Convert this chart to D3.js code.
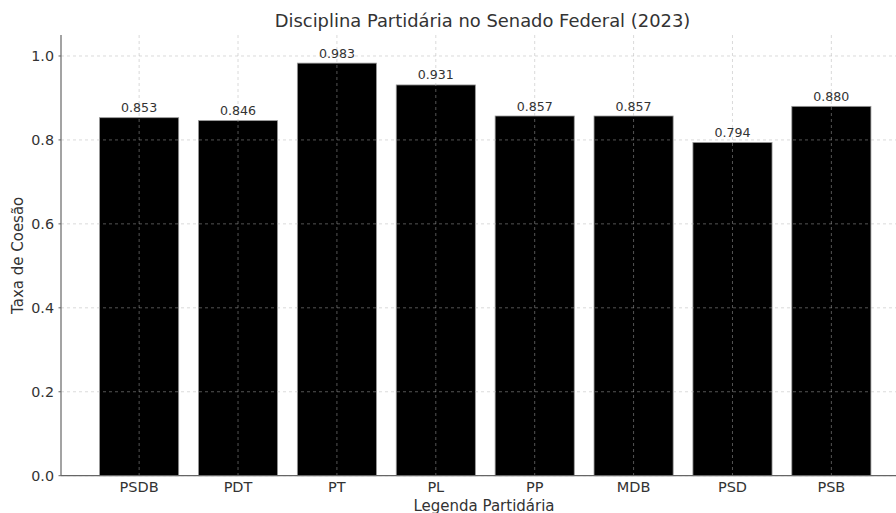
<!DOCTYPE html>
<html><head><meta charset="utf-8">
<script src="https://cdn.jsdelivr.net/npm/d3@7"></script>
<style>body{margin:0;background:#fff}svg{display:block}</style>
</head><body><svg id="c" width="896" height="513"></svg>
<script>
const parties = ["PSDB","PDT","PT","PL","PP","MDB","PSD","PSB"];
const cohesion = [0.853,0.846,0.983,0.931,0.857,0.857,0.794,0.880];
const yTicks = [0.0,0.2,0.4,0.6,0.8,1.0];
const title = "Disciplina Partidária no Senado Federal (2023)";
const xLabel = "Legenda Partidária";
const yLabel = "Taxa de Coesão";

(function(){
const svg = d3.select("#c");
const font = "DejaVu Sans, sans-serif";
const txt = "#333";
const pL = 61, pT = 35, pB = 475.7, pR = 909.5;
const x = d3.scaleLinear().domain([-0.79, 7.79]).range([pL, pR]);
const y = d3.scaleLinear().domain([0, 1.05]).range([pB, pT]);
const bw = x(0.8) - x(0);

// bars
svg.append("g").selectAll("rect").data(cohesion).join("rect")
  .attr("x", (d,i)=>x(i)-bw/2).attr("width", bw)
  .attr("y", d=>y(d)).attr("height", d=>y(0)-y(d))
  .attr("fill","#000").attr("stroke","#999").attr("stroke-width",0.8);

// grid
const g = svg.append("g").attr("stroke","#b0b0b0").attr("stroke-opacity",0.6)
  .attr("stroke-width",0.8).attr("stroke-dasharray","3,3");
g.selectAll("line.h").data(yTicks).join("line").attr("class","h")
  .attr("x1",pL).attr("x2",pR).attr("y1",d=>y(d)).attr("y2",d=>y(d));
g.selectAll("line.v").data(parties).join("line").attr("class","v")
  .attr("x1",(d,i)=>x(i)).attr("x2",(d,i)=>x(i)).attr("y1",pT).attr("y2",pB);

// value labels
svg.append("g").selectAll("text").data(cohesion).join("text")
  .attr("x",(d,i)=>x(i)).attr("y",d=>y(d)-5.5)
  .attr("text-anchor","middle").attr("font-family",font).attr("font-size",12.6)
  .attr("fill",txt).text(d=>d3.format(".3f")(d));

// spines
svg.append("line").attr("x1",pL).attr("x2",pL).attr("y1",pT).attr("y2",pB)
  .attr("stroke","#666").attr("stroke-width",1.2);
svg.append("line").attr("x1",pL).attr("x2",pR).attr("y1",pB).attr("y2",pB)
  .attr("stroke","#666").attr("stroke-width",1.2);

// y ticks
const yt = svg.append("g").selectAll("g").data(yTicks).join("g")
  .attr("transform",d=>`translate(${pL},${y(d)})`);
yt.append("line").attr("x1",-2.5).attr("x2",0).attr("stroke","#666");
yt.append("text").attr("x",-7).attr("dy","0.35em").attr("text-anchor","end")
  .attr("font-family",font).attr("font-size",14.3).attr("fill",txt).text(d=>d.toFixed(1));

// x ticks
svg.append("g").selectAll("text").data(parties).join("text")
  .attr("x",(d,i)=>x(i)).attr("y",491.5).attr("text-anchor","middle")
  .attr("font-family",font).attr("font-size",14.5).attr("fill",txt).text(d=>d);

// labels
svg.append("text").attr("x",484).attr("y",510.5).attr("text-anchor","middle")
  .attr("font-family",font).attr("font-size",15).attr("fill",txt).text(xLabel);
svg.append("text").attr("transform",`translate(23,${(pT+pB)/2}) rotate(-90)`)
  .attr("text-anchor","middle").attr("font-family",font).attr("font-size",15)
  .attr("fill",txt).text(yLabel);
svg.append("text").attr("x",482.5).attr("y",27).attr("text-anchor","middle")
  .attr("font-family",font).attr("font-size",17.9).attr("fill",txt).text(title);
})();
</script></body></html>
